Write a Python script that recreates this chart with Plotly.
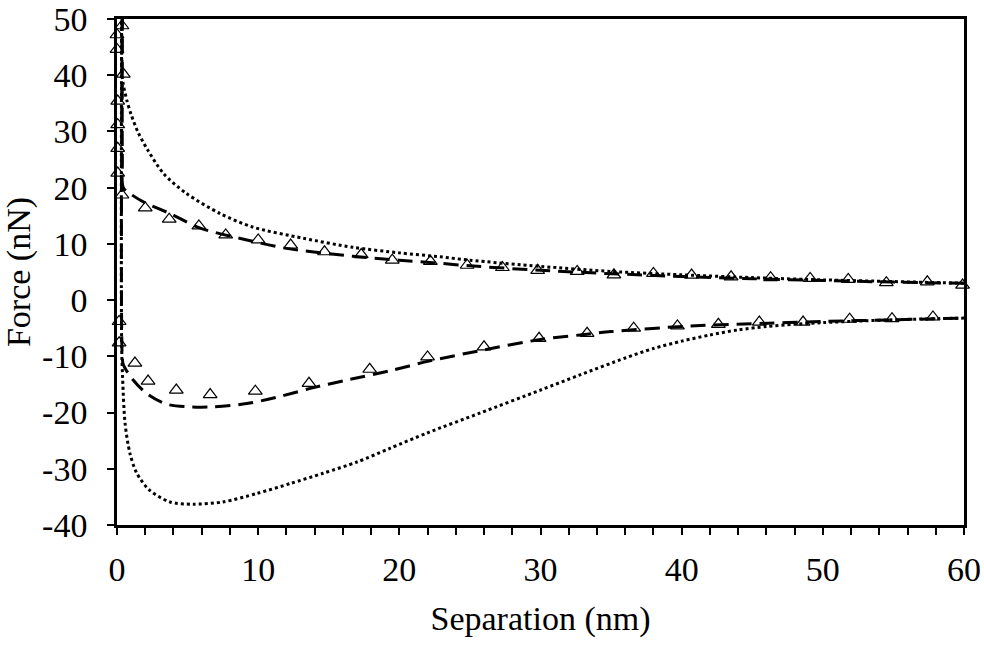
import plotly.graph_objects as go

# model curve, dotted (approach branch, then contact)
dot_app_x = [60, 55, 50, 45, 40, 35, 30, 25, 22.9, 20, 16.7, 13.2, 9.6, 7.3, 4.9, 3.3, 2.2, 1.5, 1.0, 0.7, 0.45, 0.35, 0.33, 0.33]
dot_app_y = [3.0, 3.3, 3.6, 4.0, 4.5, 5.1, 6.0, 7.1, 7.7, 8.4, 9.4, 11.0, 13.0, 15.4, 19.0, 22.5, 26.6, 29.8, 33.0, 35.5, 38.3, 40.5, 45, 55]
# model curve, dotted (retract branch)
dot_ret_x = [0.33, 0.33, 0.4, 0.57, 0.92, 1.4, 2.3, 3.75, 5.4, 7.5, 9.9, 12.3, 14.6, 17, 19.3, 22, 25.7, 30, 32.8, 36, 38, 40, 42, 44, 46, 48, 50, 55, 60]
dot_ret_y = [55, -8, -14, -21.9, -27.3, -30.8, -33.8, -35.9, -36.3, -35.9, -34.4, -32.6, -30.8, -28.8, -26.4, -23.6, -20.1, -16.0, -13.3, -10.3, -8.6, -7.3, -6.2, -5.3, -4.7, -4.3, -4.0, -3.5, -3.2]

# model curve, dashed
dash_app_x = [60, 55, 50, 45, 40, 35, 30, 25, 22.6, 20, 16.7, 12, 9.2, 5.9, 3.75, 2, 1, 0.45, 0.38, 0.38]
dash_app_y = [3.0, 3.2, 3.5, 3.8, 4.2, 4.7, 5.3, 6.1, 6.6, 7.1, 7.8, 9.2, 10.7, 12.8, 15.4, 17.3, 18.8, 20, 25, 55]
dash_ret_x = [0.38, 0.38, 0.45, 1.04, 2.1, 3.5, 5.2, 6.8, 9.2, 11.3, 13.7, 16.5, 19.3, 22, 25.7, 30, 32.8, 35, 40.6, 45, 50, 55, 60]
dash_ret_y = [55, -10.5, -11.5, -13.9, -16.6, -18.5, -19.0, -19.0, -18.4, -17.3, -15.7, -14.1, -12.6, -10.9, -9.0, -7.0, -6.2, -5.6, -4.6, -4.2, -3.8, -3.5, -3.2]

# measured points (triangles)
exp_app_x = [0.35, 0.0, 0.0, 0.45, 0.05, 0.05, 0.05, 0.05, 0.35, 2.0, 3.7, 5.8, 7.7, 10.0, 12.3, 14.7, 17.3, 19.5, 22.2, 24.8,
             27.3, 29.8, 32.6, 35.2, 38.0, 40.7, 43.5, 46.3, 49.1, 51.8, 54.5, 57.4, 59.9]
exp_app_y = [48.8, 47.2, 44.6, 40.2, 35.4, 31.2, 27.0, 22.6, 18.7, 16.4, 14.4, 13.2, 11.6, 10.7, 9.8, 8.6, 8.1, 7.1, 6.9, 6.2,
             5.8, 5.3, 5.1, 4.5, 4.75, 4.45, 4.15, 4.0, 3.86, 3.68, 3.1, 3.26, 2.67]
exp_ret_x = [0.15, 0.15, 1.27, 2.2, 4.2, 6.6, 9.8, 13.6, 17.9, 22.0, 26.0, 29.9, 33.3, 36.6, 39.7, 42.6, 45.5, 48.6, 51.9, 54.9, 57.8]
exp_ret_y = [-3.8, -7.6, -11.2, -14.4, -16.0, -16.8, -16.2, -14.8, -12.3, -10.1, -8.3, -6.8, -5.9, -5.0, -4.6, -4.3, -3.9, -3.9, -3.4, -3.3, -3.0]

y_ticks = [-40, -30, -20, -10, 0, 10, 20, 30, 40, 50]

fig = go.Figure()

dot_line = dict(color="black", width=3, dash="3px,3px", shape="spline", smoothing=0.8)
dash_line = dict(color="black", width=3, dash="15px,8px", shape="spline", smoothing=0.8)

fig.add_trace(go.Scatter(x=dot_app_x, y=dot_app_y, mode="lines", line=dot_line, showlegend=False))
fig.add_trace(go.Scatter(x=dot_ret_x, y=dot_ret_y, mode="lines", line=dot_line, showlegend=False))
fig.add_trace(go.Scatter(x=dash_app_x, y=dash_app_y, mode="lines", line=dash_line, showlegend=False))
fig.add_trace(go.Scatter(x=dash_ret_x, y=dash_ret_y, mode="lines", line=dash_line, showlegend=False))

tri = dict(symbol="triangle-up-open", size=12, color="black", line=dict(width=1.2, color="black"))
fig.add_trace(go.Scatter(x=exp_app_x, y=exp_app_y, mode="markers", marker=tri, cliponaxis=False, showlegend=False))
fig.add_trace(go.Scatter(x=exp_ret_x, y=exp_ret_y, mode="markers", marker=tri, cliponaxis=False, showlegend=False))

fig.update_layout(
    width=984,
    height=649,
    paper_bgcolor="white",
    plot_bgcolor="white",
    font=dict(family="Liberation Serif", size=34, color="black"),
    margin=dict(l=117, r=20, t=19, b=124, pad=0),
)

fig.update_xaxes(
    range=[0, 60],
    dtick=10,
    tick0=0,
    ticks="outside",
    ticklen=7,
    tickwidth=2,
    tickcolor="black",
    minor=dict(dtick=2, ticks="outside", ticklen=7, tickwidth=2, tickcolor="black"),
    showline=True,
    linecolor="black",
    linewidth=2.5,
    mirror=True,
    showgrid=False,
    zeroline=False,
    automargin=False,
    ticklabeloverflow="allow",
    ticklabelstandoff=5,
    title=dict(text="Separation (nm)", font=dict(size=34), standoff=20),
)
fig.update_yaxes(
    range=[-40, 50],
    tickvals=y_ticks,
    ticktext=[str(v) for v in y_ticks],
    ticks="outside",
    ticklen=7,
    tickwidth=2,
    tickcolor="black",
    showline=True,
    linecolor="black",
    linewidth=2.5,
    mirror=True,
    showgrid=False,
    zeroline=False,
    automargin=False,
    ticklabeloverflow="allow",
    ticklabelstandoff=13,
    title=dict(text="Force (nN)", font=dict(size=34), standoff=13),
)

# drop the default 8px body margin so the figure fills the window exactly
fig.write_html(
    "out.html",
    config={"displayModeBar": False},
    post_script="document.body.style.margin='0px';",
)
